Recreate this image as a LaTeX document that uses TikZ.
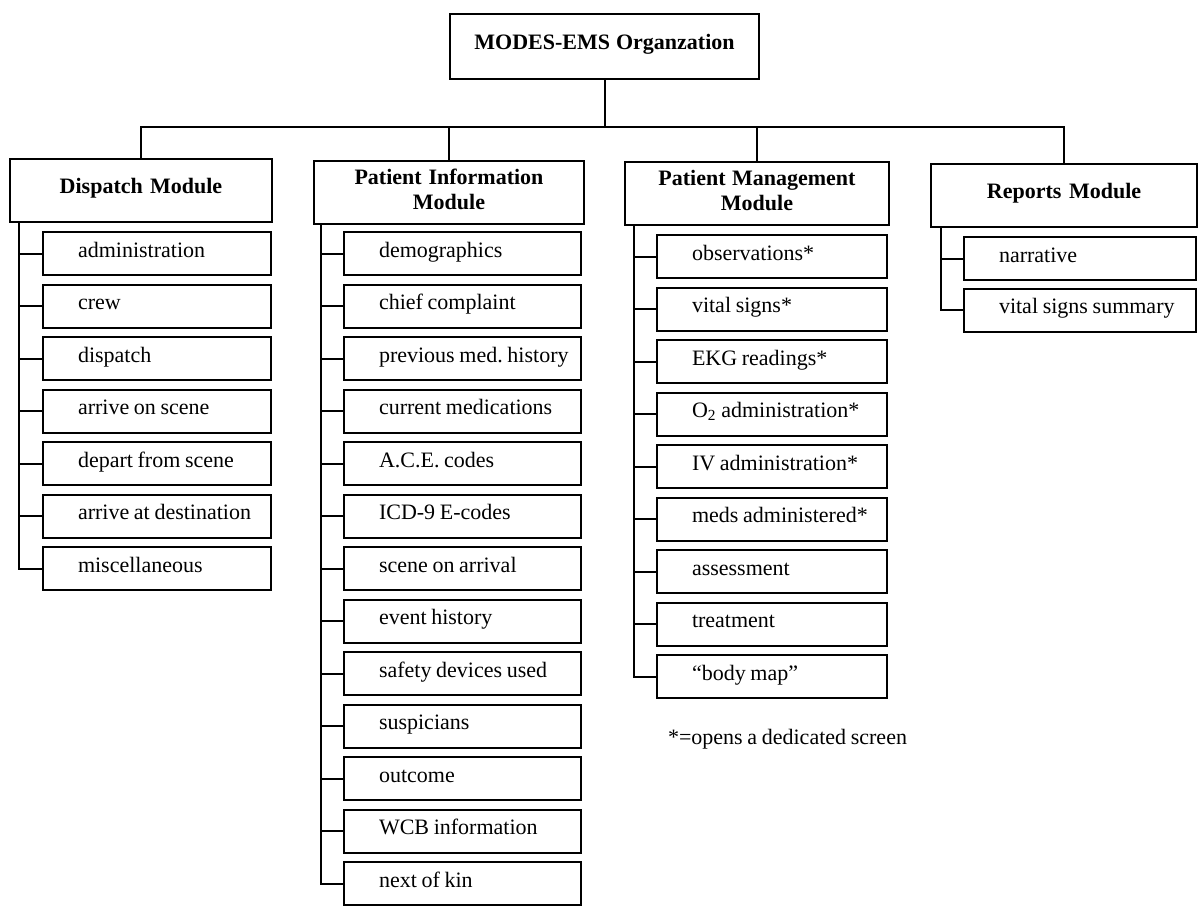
\documentclass[tikz,border=0pt]{standalone}
\usepackage{fontspec}
\setmainfont[WordSpace=0.85]{Liberation Serif}
\frenchspacing
\newcommand{\nsp}{\spaceskip=0pt\xspaceskip=0pt\relax}
\begin{document}
\begin{tikzpicture}[x=0.5pt,y=-0.5pt,
  line width=1pt,
  every node/.style={font=\fontsize{11pt}{12.5pt}\selectfont},
  box/.style={draw, line width=1pt, rectangle, inner xsep=0pt, inner ysep=0pt, anchor=north west},
  titlebox/.style={box, font=\fontsize{11pt}{12.5pt}\selectfont\bfseries, align=center, text height=17.5pt, text depth=15pt},
  modbox/.style={box, font=\fontsize{11pt}{12.5pt}\selectfont\bfseries, align=center},
  onel/.style={text height=17pt, text depth=14.5pt},
  twol/.style={text height=11.5pt, text depth=20pt},
  itembox/.style={box, text height=12.5pt, text depth=9pt},
  conn/.style={draw, line width=1pt}
]
\useasboundingbox (0,0) rectangle (1198,905);

% top
\node[titlebox, text width=154.5pt] (title) at (449,13) {\nsp MODES-EMS Organzation};

% modules
\node[modbox, onel, text width=131pt] (dm) at (9,158) {\nsp Dispatch Module};
\node[modbox, twol, text width=135pt] (pim) at (313,160) {\nsp Patient Information\\Module};
\node[modbox, twol, text width=132pt] (pmm) at (624,161) {\nsp Patient Management\\Module};
\node[modbox, onel, text width=133pt] (rm) at (930,163) {\nsp Reports Module};

% bus
\coordinate (busy) at (0,127);
\coordinate (bus) at (title.south |- busy);
\path[conn] (title.south) -- (bus);
\path[conn] (dm.north) |- (bus) -| (rm.north);
\path[conn] (pim.north) -- (pim.north |- bus);
\path[conn] (pmm.north) -- (pmm.north |- bus);

% dispatch items
\foreach \lbl [count=\i] in {administration, crew, dispatch, arrive on scene, depart from scene, arrive at destination, miscellaneous}
  \node[itembox] (d\i) at (42, {231+(\i-1)*52.5}) {\makebox[114pt][l]{\hspace*{17.5pt}\lbl}};

% patient information items
\foreach \lbl [count=\i] in {demographics, chief complaint, previous med. history, current medications, A.C.E. codes, ICD-9 E-codes, scene on arrival, event history, safety devices used, suspicians, outcome, WCB information, next of kin}
  \node[itembox] (p\i) at (343, {231+(\i-1)*52.5}) {\makebox[118.5pt][l]{\hspace*{17.5pt}\lbl}};

% patient management items
\foreach \lbl [count=\i] in {observations*, vital signs*, EKG readings*, O\textsubscript{2} administration*, IV administration*, meds administered*, assessment, treatment, “body map”}
  \node[itembox] (m\i) at (656, {234+(\i-1)*52.5}) {\makebox[115pt][l]{\hspace*{17.5pt}\lbl}};

% reports items
\foreach \lbl [count=\i] in {narrative, vital signs summary}
  \node[itembox] (r\i) at (963, {236+(\i-1)*51.5}) {\makebox[116pt][l]{\hspace*{17.5pt}\lbl}};

% spines
\coordinate (sd) at (19,0);
\coordinate (sp) at (321,0);
\coordinate (sm) at (634,0);
\coordinate (sr) at (941,0);
\path[conn] (dm.south -| sd) |- (d7.west);
\foreach \i in {1,...,6} \path[conn] (d\i.west) -- (d\i.west -| sd);
\path[conn] (pim.south -| sp) |- (p13.west);
\foreach \i in {1,...,12} \path[conn] (p\i.west) -- (p\i.west -| sp);
\path[conn] (pmm.south -| sm) |- (m9.west);
\foreach \i in {1,...,8} \path[conn] (m\i.west) -- (m\i.west -| sm);
\path[conn] (rm.south -| sr) |- (r2.west);
\path[conn] (r1.west) -- (r1.west -| sr);

% footnote
\node[anchor=base west, inner sep=0pt] (note) at (667,744) {*=opens a dedicated screen};
\end{tikzpicture}
\end{document}
